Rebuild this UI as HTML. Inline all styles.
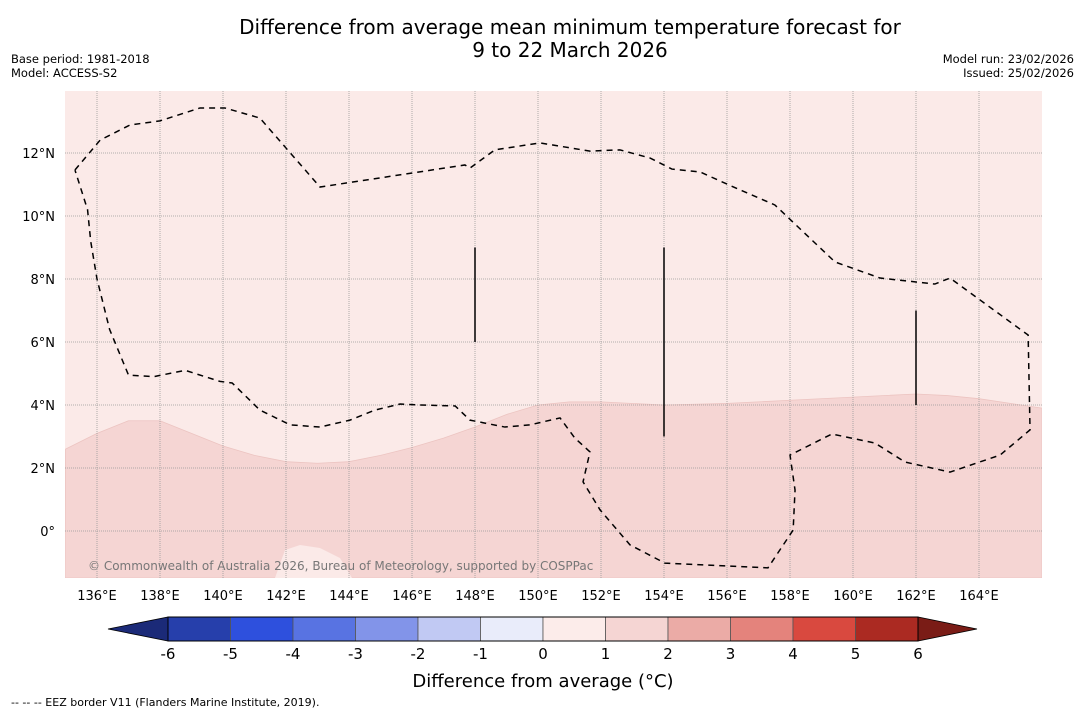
<!DOCTYPE html>
<html><head><meta charset="utf-8"><style>
body{margin:0;background:#fff;font-family:"Liberation Sans","DejaVu Sans",sans-serif}
svg text{font-family:"DejaVu Sans","Liberation Sans",sans-serif}
</style></head><body>
<svg id="c" width="1085" height="713" xmlns="http://www.w3.org/2000/svg">
<text x="570" y="34" font-size="20" text-anchor="middle">Difference from average mean minimum temperature forecast for</text>
<text x="570" y="57" font-size="20" text-anchor="middle">9 to 22 March 2026</text>
<text x="11" y="63" font-size="11.5">Base period: 1981-2018</text>
<text x="11" y="77" font-size="11.5">Model: ACCESS-S2</text>
<text x="1074" y="63" font-size="11.5" text-anchor="end">Model run: 23/02/2026</text>
<text x="1074" y="77" font-size="11.5" text-anchor="end">Issued: 25/02/2026</text>
<g id="map"></g>
<g id="cb"></g>
<text x="543" y="687" font-size="18" text-anchor="middle">Difference from average (°C)</text>
<text x="11" y="706" font-size="11">--  --  -- EEZ border V11 (Flanders Marine Institute, 2019).</text>
</svg>
<script>
const lonTicks=[136,138,140,142,144,146,148,150,152,154,156,158,160,162,164];
const latTicks=[0,2,4,6,8,10,12];
const cbLevels=[-6,-5,-4,-3,-2,-1,0,1,2,3,4,5,6];
const cbColors=["#263fab","#2e50dd","#5873e2","#8294e9","#c1c9f3","#e9ecfa","#fcecea","#f5d5d3","#ebaba6","#e4837c","#d9493f","#ab2a22"];
const bandLon=[135,136,137,138,139,140,141,142,143,144,145,146,147,148,149,150,151,152,154,156,158,160,162,163,164,166];
const bandLat=[2.6,3.1,3.5,3.5,3.1,2.7,2.4,2.2,2.15,2.2,2.4,2.65,2.95,3.3,3.7,4.0,4.1,4.1,4.0,4.05,4.15,4.25,4.35,4.3,4.2,3.9];
const eezLon=[135.3,136.1,137.05,138.0,139.27,140.06,141.17,143.08,147.68,147.84,148.63,150.06,151.65,152.6,153.56,154.25,155.14,156.41,157.52,159.43,160.86,162.6,163.08,165.56,165.62,164.67,163.08,161.65,160.7,159.33,158.0,158.16,158.1,157.3,154.03,152.92,151.97,151.43,151.65,151.17,150.7,149.75,148.95,147.84,147.37,146.25,145.62,144.83,144.03,143.08,142.13,141.17,140.29,139.9,138.8,137.8,137.0,136.4,136.0,135.8,135.7,135.3];
const eezLat=[11.46,12.41,12.89,13.02,13.43,13.43,13.11,10.92,11.62,11.52,12.1,12.32,12.06,12.1,11.84,11.49,11.4,10.83,10.35,8.54,8.03,7.84,8.03,6.22,3.21,2.41,1.87,2.19,2.79,3.08,2.41,1.3,0.03,-1.17,-1.02,-0.44,0.67,1.56,2.51,2.95,3.59,3.37,3.3,3.52,3.97,4.0,4.03,3.84,3.52,3.3,3.37,3.84,4.7,4.75,5.1,4.9,4.95,6.4,8.0,9.2,10.2,11.46];
const segLon=[148,154,162];const segTop=[9,9,7];const segBot=[6,3,4];
const NS="http://www.w3.org/2000/svg";
const X0=65,X1=1042,Y0=91,Y1=578;
const xs=l=>97+(l-136)*31.5, ys=a=>531-a*31.5;
function mk(t,a,p){const e=document.createElementNS(NS,t);for(const k in a)e.setAttribute(k,a[k]);p.appendChild(e);return e;}
const map=document.getElementById('map');
const defs=mk('defs',{},map);const cp=mk('clipPath',{id:'cl'},defs);mk('rect',{x:X0,y:Y0,width:X1-X0,height:Y1-Y0},cp);
const bg=mk('rect',{x:X0,y:Y0,width:X1-X0,height:Y1-Y0,fill:'#fbeae8'},map);


const g=mk('g',{'clip-path':'url(#cl)'},map);
let d='M'+bandLon.map((l,i)=>xs(l)+','+ys(bandLat[i])).join(' L')+` L${X1},${Y1} L${X0},${Y1} Z`;
const band=mk('path',{d:d,fill:'#f5d5d3',stroke:'#ecc4c1','stroke-width':0.8},g);


const patch=mk('path',{d:'M285,550 L300,545 L320,548 L340,558 L352,578 L275,578 Z',fill:'#fbeae8'},g);


lonTicks.forEach(l=>{const ln=mk('line',{x1:xs(l),x2:xs(l),y1:Y0,y2:Y1,stroke:'#999','stroke-width':0.8,'stroke-dasharray':'1,1'},g);


const t=mk('text',{x:xs(l),y:600,'font-size':13,'text-anchor':'middle'},map);t.textContent=l+'°E';

});
latTicks.forEach(a=>{const ln=mk('line',{x1:X0,x2:X1,y1:ys(a),y2:ys(a),stroke:'#999','stroke-width':0.8,'stroke-dasharray':'1,1'},g);


const t=mk('text',{x:55,y:ys(a)+5,'font-size':13,'text-anchor':'end'},map);t.textContent=a===0?'0°':a+'°N';

});
const eez=mk('polyline',{points:eezLon.map((l,i)=>xs(l)+','+ys(eezLat[i])).join(' '),fill:'none',stroke:'#000','stroke-width':1.5,'stroke-dasharray':'6,5'},g);


segLon.forEach((l,i)=>{const s=mk('line',{x1:xs(l),x2:xs(l),y1:ys(segTop[i]),y2:ys(segBot[i]),stroke:'#000','stroke-width':1.5},g);

});
const cr=mk('text',{x:88,y:570,'font-size':12,fill:'#777'},g);cr.textContent='© Commonwealth of Australia 2026, Bureau of Meteorology, supported by COSPPac';


const cb=document.getElementById('cb');const cx=v=>543+v*62.5,cy0=617,cy1=641;
const la=mk('polygon',{points:`${cx(-6)},${cy0} ${cx(-6)},${cy1} 108,629`,fill:'#1b2a78',stroke:'#000','stroke-width':0.8},cb);


const ra=mk('polygon',{points:`${cx(6)},${cy0} ${cx(6)},${cy1} 977,629`,fill:'#7a1c16',stroke:'#000','stroke-width':0.8},cb);


cbColors.forEach((c,i)=>{const r=mk('rect',{x:cx(cbLevels[i]),y:cy0,width:cx(cbLevels[i+1])-cx(cbLevels[i]),height:cy1-cy0,fill:c,stroke:'#555','stroke-width':0.8},cb);

});
mk('rect',{x:cx(-6),y:cy0,width:cx(6)-cx(-6),height:cy1-cy0,fill:'none',stroke:'#000','stroke-width':1},cb);
cbLevels.forEach(v=>{const t=mk('text',{x:cx(v),y:659,'font-size':15,'text-anchor':'middle'},cb);t.textContent=v;

});
</script>
</body></html>
